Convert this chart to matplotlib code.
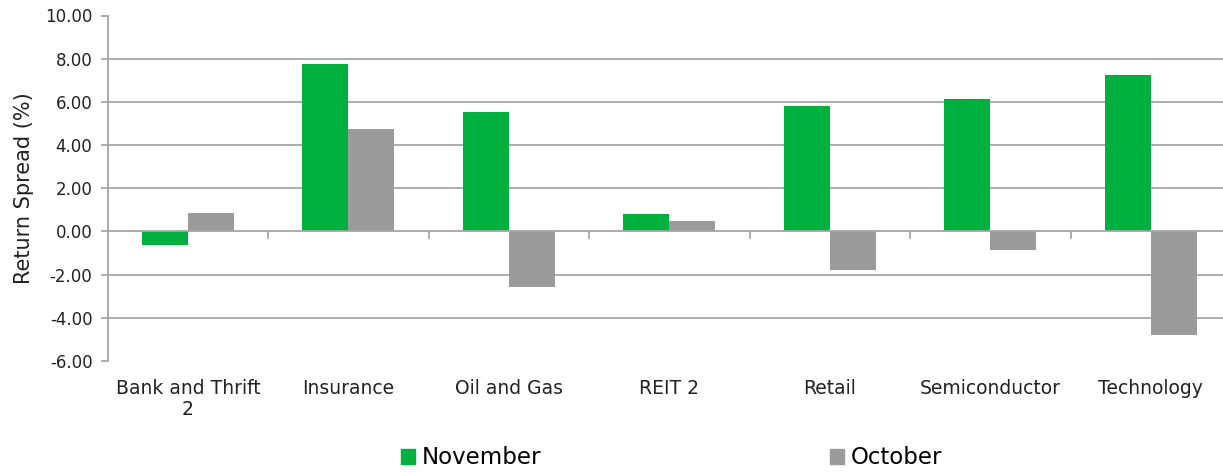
import matplotlib
matplotlib.use("Agg")
import matplotlib.pyplot as plt
import numpy as np
from matplotlib.patches import Patch

plt.rcParams['font.family'] = ['DejaVu Sans']

categories = ["Bank and Thrift\n2", "Insurance", "Oil and Gas", "REIT 2", "Retail", "Semiconductor", "Technology"]
november = [-0.62, 7.75, 5.53, 0.81, 5.83, 6.13, 7.25]
october = [0.84, 4.76, -2.57, 0.49, -1.80, -0.84, -4.78]
yticks = [10, 8, 6, 4, 2, 0, -2, -4, -6]

green = "#00b140"
grey = "#9b9b9b"
gridc = "#a6a6a6"

W, H = 1223, 472
fig = plt.figure(figsize=(W / 100, H / 100), dpi=100)
left, right, top, bottom = 107.7, 1231, 15.5, 361
ax = fig.add_axes([left / W, 1 - bottom / H, (right - left) / W, (bottom - top) / H])

x = np.arange(len(categories))
bw = 0.287
ax.bar(x - bw / 2, november, bw, color=green, label="November", zorder=3)
ax.bar(x + bw / 2, october, bw, color=grey, label="October", zorder=3)

ax.set_xlim(-0.5, len(categories) - 0.5)
ax.set_ylim(-6, 10)
ax.set_yticks(yticks)
ax.set_yticklabels([f"{v:.2f}" for v in yticks], fontsize=12, color="#222222")
for v in yticks:
    if v not in (10, -6, 0):
        ax.axhline(v, color=gridc, lw=1.3, zorder=1)
ax.axhline(0, color=gridc, lw=1.3, zorder=4)

for s in ["top", "right", "bottom"]:
    ax.spines[s].set_visible(False)
ax.spines["left"].set_color(gridc)
ax.spines["left"].set_linewidth(1.3)
ax.tick_params(axis="y", length=5, color=gridc, width=1.3, pad=6)

for b in np.arange(0.5, len(categories) - 0.5, 1):
    ax.plot([b, b], [0, -0.3], color=gridc, lw=1.3, zorder=4, clip_on=False)
ax.set_xticks(x)
ax.set_xticklabels(categories, fontsize=13.5, color="#222222", linespacing=1.15)
ax.tick_params(axis="x", length=0, pad=13)

ax.set_ylabel("Return Spread (%)", fontsize=15, color="#222222", labelpad=8)

handles = [Patch(color=green, label="November"), Patch(color=grey, label="October")]
fig.legend(handles=handles, loc="center", bbox_to_anchor=(672 / W, 1 - 458 / H), ncol=2,
           frameon=False, prop={'family': 'DejaVu Sans', 'size': 16.5},
           handlelength=0.6, handleheight=0.6, handletextpad=0.3,
           columnspacing=12.6)

fig.savefig("out.png", dpi=100, facecolor="white")
